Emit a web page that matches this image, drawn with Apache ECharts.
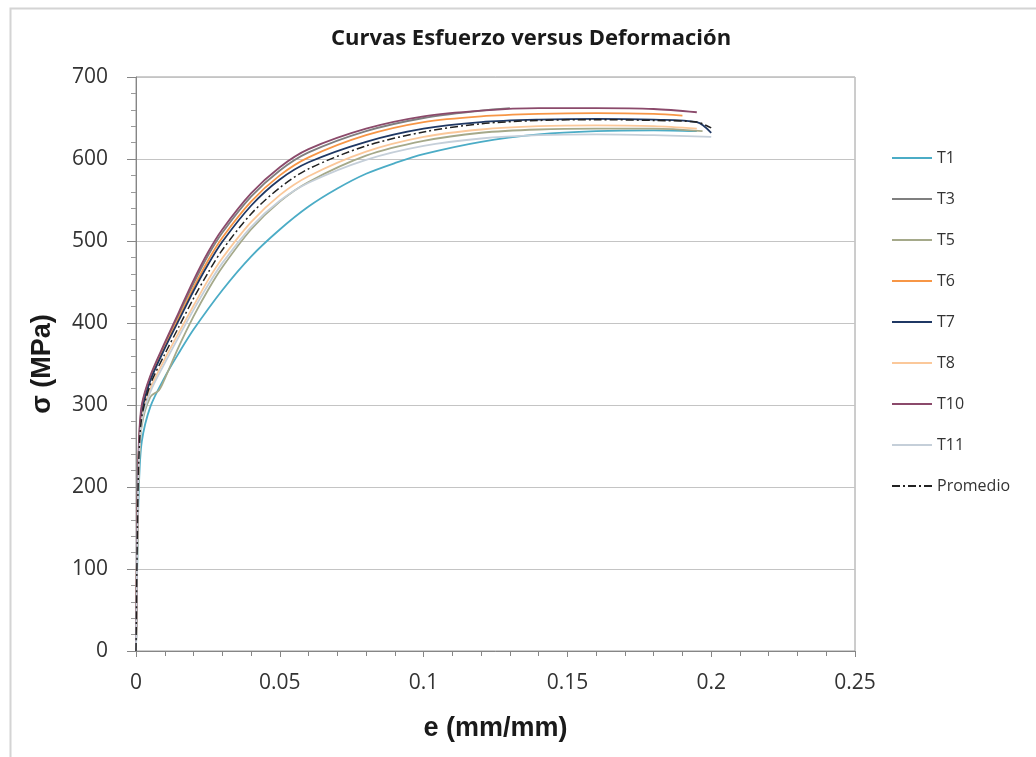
<!DOCTYPE html>
<html>
<head>
<meta charset="utf-8">
<title>Curvas Esfuerzo versus Deformación</title>
<script src="https://cdn.jsdelivr.net/npm/echarts@6/dist/echarts.min.js"></script>
<style>
  html, body { margin: 0; padding: 0; background: #fff; }
  #chart { width: 1036px; height: 757px; }
</style>
</head>
<body>
<div id="chart"></div>
<script>
// curvas: [e (mm/mm), sigma (MPa)]
const t1 = [[0,0],[0.0005,120],[0.001,200],[0.002,255],[0.005,298],[0.01,334],[0.015,364],[0.02,392],[0.03,440],[0.04,481],[0.05,514],[0.06,542],[0.07,564],[0.08,582],[0.09,595],[0.1,606],[0.12,621],[0.14,630],[0.16,634],[0.18,635],[0.195,634]];
const t3 = [[0,0],[0.0005,160],[0.001,245],[0.002,297],[0.005,334],[0.01,374],[0.015,411],[0.02,448],[0.025,482],[0.03,510],[0.04,554],[0.05,586],[0.06,608],[0.08,634],[0.1,650],[0.12,659],[0.13,662]];
const t5 = [[0,0],[0.0005,130],[0.001,220],[0.002,275],[0.005,310],[0.008,318],[0.01,332],[0.015,372],[0.02,408],[0.025,440],[0.03,468],[0.04,514],[0.05,548],[0.06,572],[0.08,604],[0.1,622],[0.12,632],[0.14,636],[0.16,637],[0.18,637],[0.197,634]];
const t6 = [[0,0],[0.0005,160],[0.001,245],[0.002,292],[0.005,332],[0.01,371],[0.015,407],[0.02,443],[0.025,476],[0.03,504],[0.04,548],[0.05,580],[0.06,602],[0.08,629],[0.1,645],[0.12,652],[0.14,655],[0.16,656],[0.18,655],[0.19,653]];
const t7 = [[0,0],[0.0005,150],[0.001,240],[0.002,290],[0.005,330],[0.01,369],[0.015,404],[0.02,439],[0.025,471],[0.03,499],[0.04,543],[0.05,575],[0.06,596],[0.08,621],[0.1,637],[0.12,645],[0.14,648],[0.16,649],[0.18,648],[0.195,645],[0.2,632]];
const t8 = [[0,0],[0.0005,140],[0.001,230],[0.002,282],[0.005,320],[0.01,356],[0.015,389],[0.02,421],[0.025,452],[0.03,479],[0.04,523],[0.05,556],[0.06,579],[0.08,609],[0.1,627],[0.12,636],[0.14,640],[0.16,641],[0.18,640],[0.195,637]];
const t10 = [[0,0],[0.0005,170],[0.001,255],[0.002,300],[0.005,336],[0.01,376],[0.015,414],[0.02,452],[0.025,486],[0.03,514],[0.04,558],[0.05,590],[0.06,612],[0.08,637],[0.1,652],[0.12,659],[0.14,662],[0.16,662],[0.18,661],[0.195,657]];
const t11 = [[0,0],[0.0005,140],[0.001,230],[0.002,280],[0.005,316],[0.01,351],[0.015,384],[0.02,416],[0.025,446],[0.03,473],[0.04,517],[0.05,549],[0.06,571],[0.08,599],[0.1,616],[0.12,625],[0.14,629],[0.16,630],[0.18,629],[0.2,627]];
const promedio = [[0,0],[0.0005,150],[0.001,235],[0.002,285],[0.005,325],[0.01,362],[0.015,396],[0.02,430],[0.025,461],[0.03,489],[0.04,533],[0.05,565],[0.06,588],[0.08,616],[0.1,633],[0.12,643],[0.14,647],[0.16,648],[0.18,647],[0.195,645],[0.2,638]];

const seriesNames = ['T1', 'T3', 'T5', 'T6', 'T7', 'T8', 'T10', 'T11', 'Promedio'];
const seriesData = [t1, t3, t5, t6, t7, t8, t10, t11, promedio];
const seriesColors = ['#4bacc6', '#7f7f7f', '#a5a98a', '#f79646', '#1f3864', '#fbc89a', '#8b4a6b', '#c5cfd9', '#222222'];

const chart = echarts.init(document.getElementById('chart'));

const series = seriesNames.map((name, i) => ({
    name: name,
    type: 'line',
    data: seriesData[i],
    smooth: 0.3,
    showSymbol: false,
    lineStyle: {
        color: seriesColors[i],
        width: name === 'Promedio' ? 1.5 : 1.8,
        type: name === 'Promedio' ? [8, 3, 2, 3] : 'solid'
    },
    itemStyle: { color: seriesColors[i] },
    z: name === 'Promedio' ? 5 : 2
}));

chart.setOption({
    backgroundColor: '#fff',
    animation: false,
    graphic: [{
        type: 'rect',
        left: 8, top: 6,
        shape: { width: 1100, height: 800 },
        style: { fill: 'none', stroke: '#d4d4d4', lineWidth: 2 }
    }],
    title: {
        text: 'Curvas Esfuerzo versus Deformación',
        left: 526, top: 23,
        textAlign: 'center',
        textStyle: { fontFamily: 'Open Sans', fontWeight: 'bold', fontSize: 22, color: '#1a1a1a' }
    },
    legend: {
        orient: 'vertical',
        left: 886, top: 145,
        itemWidth: 40, itemHeight: 14,
        itemGap: 25,
        itemStyle: { opacity: 0 },
        textStyle: { fontFamily: 'Open Sans', fontSize: 16, color: '#333' },
        data: seriesNames
    },
    grid: {
        left: 136, top: 77, right: 181, bottom: 106,
        show: true, borderColor: '#9a9a9a', borderWidth: 1
    },
    xAxis: {
        type: 'value',
        min: 0, max: 0.25, interval: 0.05,
        name: 'e (mm/mm)',
        nameLocation: 'middle',
        nameGap: 64,
        nameTextStyle: { fontFamily: 'Liberation Sans', fontWeight: 'bold', fontSize: 27, color: '#1a1a1a' },
        axisLine: { onZero: false, lineStyle: { color: '#868686' } },
        axisTick: { show: true, length: 6, lineStyle: { color: '#868686' } },
        minorTick: { show: true, splitNumber: 5, length: 5, lineStyle: { color: '#868686' } },
        axisLabel: { fontFamily: 'Open Sans', fontSize: 21, color: '#333', margin: 22 },
        splitLine: { show: false }
    },
    yAxis: {
        type: 'value',
        min: 0, max: 700, interval: 100,
        name: 'σ (MPa)',
        nameLocation: 'middle',
        nameGap: 80,
        nameTextStyle: { fontFamily: 'Liberation Sans', fontWeight: 'bold', fontSize: 27, color: '#1a1a1a' },
        axisLine: { show: true, lineStyle: { color: '#868686' } },
        axisTick: { show: true, length: 9, lineStyle: { color: '#868686' } },
        minorTick: { show: true, splitNumber: 5, length: 5, lineStyle: { color: '#9a9a9a' } },
        axisLabel: { fontFamily: 'Open Sans', fontSize: 21, color: '#333', margin: 28 },
        splitLine: { show: true, lineStyle: { color: '#c4c4c4', width: 1.2 } }
    },
    series: series
});
</script>
</body>
</html>
